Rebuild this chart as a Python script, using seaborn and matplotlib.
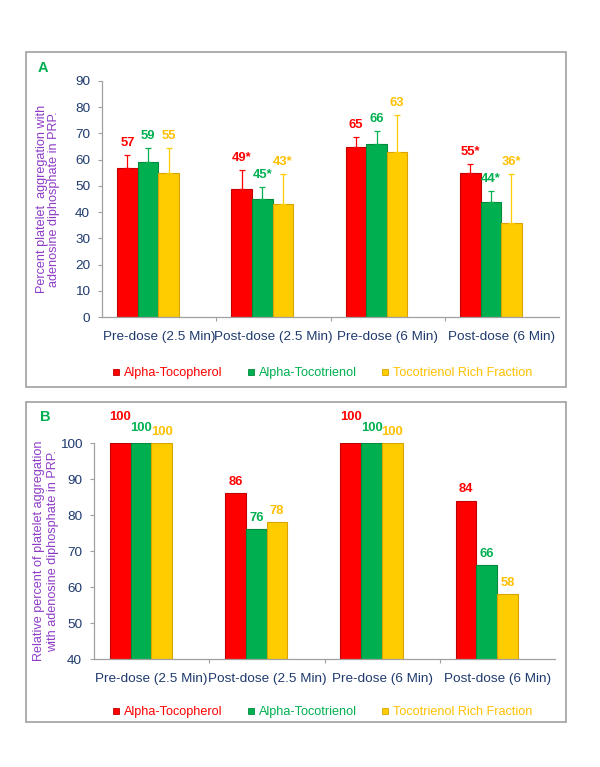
import matplotlib
matplotlib.use("Agg")
import matplotlib.pyplot as plt
from matplotlib.lines import Line2D
from matplotlib.patches import Rectangle
import numpy as np
import pandas as pd
import seaborn as sns

# ── Data ───────────────────────────────────────────────────────────────────
categories = ["Pre-dose (2.5 Min)", "Post-dose (2.5 Min)",
              "Pre-dose (6 Min)", "Post-dose (6 Min)"]
series = ["Alpha-Tocopherol", "Alpha-Tocotrienol", "Tocotrienol Rich Fraction"]

# panel A: percent aggregation (mean, upper SD)
tocopherol_pct = [57, 49, 65, 55]
tocotrienol_pct = [59, 45, 66, 44]
trf_pct = [55, 43, 63, 36]
tocopherol_err = [4.9, 7.0, 3.8, 3.3]
tocotrienol_err = [5.3, 4.7, 5.1, 4.0]
trf_err = [9.5, 11.7, 14.2, 18.6]
significant = [False, True, False, True]

# panel B: relative percent of aggregation
tocopherol_rel = [100, 86, 100, 84]
tocotrienol_rel = [100, 76, 100, 66]
trf_rel = [100, 78, 100, 58]

# ── Style ──────────────────────────────────────────────────────────────────
bar_colors = ["#FF0000", "#00B050", "#FFCC00"]
edge_colors = ["#C00000", "#008A3E", "#D9A400"]
text_colors = ["#FF0000", "#00B050", "#FFC000"]
navy = "#1F3A6E"
purple = "#8E3CC8"
grey = "#A0A0A0"

sns.set_theme(style="white")
plt.rcParams["font.family"] = ["Liberation Sans", "DejaVu Sans"]

fig = plt.figure(figsize=(6.0, 7.67), dpi=100)

# panel frames
for bottom, height in [(0.4954, 0.4368), (0.0587, 0.4172)]:
    fig.add_artist(Rectangle((0.0433, bottom), 0.9, height, transform=fig.transFigure,
                             fill=False, edgecolor=grey, linewidth=1.2))


def long_df(values):
    rows = []
    for s, vals in zip(series, values):
        for c, v in zip(categories, vals):
            rows.append({"category": c, "series": s, "value": v})
    return pd.DataFrame(rows)


def draw_panel(ax, df, ylim, yticks, shift):
    sns.barplot(data=df, x="category", y="value", hue="series",
                order=categories, hue_order=series, palette=bar_colors,
                width=0.54, errorbar=None, legend=False, ax=ax,
                saturation=1, linewidth=0.8)
    for cont, ec in zip(ax.containers, edge_colors):
        for p in cont.patches:
            p.set_edgecolor(ec)
    n = len(categories)
    ax.set_ylim(*ylim)
    ax.set_yticks(yticks)
    # bars sit a little left of their category slot, as in the original
    ax.set_xlim(-0.5 + shift, n - 0.5 + shift)
    ax.set_xticks(np.arange(n) + shift)
    ax.set_xticklabels(categories)
    ax.set_xticks(np.arange(1, n) - 0.5 + shift, minor=True)
    ax.tick_params(axis="x", which="major", length=0, pad=10,
                   labelsize=9.7, labelcolor=navy)
    ax.tick_params(axis="x", which="minor", length=3, width=0.8, color=grey,
                   direction="out", bottom=True)
    ax.tick_params(axis="y", length=3, width=0.8, color=grey, direction="out",
                   left=True, pad=5.5, labelsize=9.7, labelcolor=navy)
    ax.set_xlabel("")
    for side in ["top", "right"]:
        ax.spines[side].set_visible(False)
    for side in ["left", "bottom"]:
        ax.spines[side].set_color(grey)
        ax.spines[side].set_linewidth(0.9)
    ax.set_facecolor("none")


def legend_at(y):
    handles = [Line2D([], [], marker="s", linestyle="none", markersize=4.6,
                      markerfacecolor=c, markeredgecolor=e, markeredgewidth=0.6)
               for c, e in zip(bar_colors, edge_colors)]
    fig.legend(handles, series, loc="center", bbox_to_anchor=(0.537, y),
               ncol=3, frameon=False, fontsize=9.1, labelcolor=text_colors,
               handlelength=0.6, handletextpad=0.35, columnspacing=1.9,
               borderpad=0)


# ── Panel A ────────────────────────────────────────────────────────────────
axA = fig.add_axes([0.17, 0.5867, 0.7617, 0.3077])
dfA = long_df([tocopherol_pct, tocotrienol_pct, trf_pct])
draw_panel(axA, dfA, (0, 90), range(0, 91, 10), 0.097)
errs = [tocopherol_err, tocotrienol_err, trf_err]
for k, (cont, err) in enumerate(zip(axA.containers, errs)):
    xs = [p.get_x() + p.get_width() / 2 for p in cont.patches]
    hs = [p.get_height() for p in cont.patches]
    axA.errorbar(xs, hs, yerr=[np.zeros(len(err)), err], fmt="none",
                 ecolor=bar_colors[k], elinewidth=0.9, capsize=2.5, capthick=0.9)
    for x, h, e, sig in zip(xs, hs, err, significant):
        label = f"{h:.0f}*" if sig else f"{h:.0f}"
        axA.annotate(label, (x, h + e), xytext=(0, 12), textcoords="offset pixels",
                     ha="center", va="center", fontsize=9.4, fontweight="bold",
                     color=text_colors[k])
axA.set_ylabel("Percent platelet  aggregation with\nadenosine diphosphate in PRP.",
               color=purple, fontsize=9.1, linespacing=1.0, va="center")
axA.yaxis.set_label_coords(-0.118, 0.5)
fig.text(0.072, 1 - 68 / 767, "A", color="#00B050", fontsize=10.5,
         fontweight="bold", ha="center", va="center")
legend_at(1 - 373 / 767)

# ── Panel B ────────────────────────────────────────────────────────────────
axB = fig.add_axes([0.1567, 0.1408, 0.7683, 0.2816])
dfB = long_df([tocopherol_rel, tocotrienol_rel, trf_rel])
draw_panel(axB, dfB, (40, 100), range(40, 101, 10), 0.092)
stagger_px = [15, 4, 0]  # lift crowded labels on full-height groups
for k, cont in enumerate(axB.containers):
    for p in cont.patches:
        x = p.get_x() + p.get_width() / 2
        h = p.get_height()
        lift = 11.5 + (stagger_px[k] if h >= 100 else 0)
        axB.annotate(f"{h:.0f}", (x, h), xytext=(0, lift), textcoords="offset pixels",
                     ha="center", va="center", fontsize=9.4, fontweight="bold",
                     color=text_colors[k], annotation_clip=False)
axB.set_ylabel("Relative percent of platelet aggregation\nwith adenosine diphosphate in PRP.",
               color=purple, fontsize=9.1, linespacing=1.15, va="center")
axB.yaxis.set_label_coords(-0.104, 0.5)
fig.text(0.075, 1 - 417 / 767, "B", color="#00B050", fontsize=10.5,
         fontweight="bold", ha="center", va="center")
legend_at(1 - 712 / 767)

fig.savefig("out.png", dpi=100)
